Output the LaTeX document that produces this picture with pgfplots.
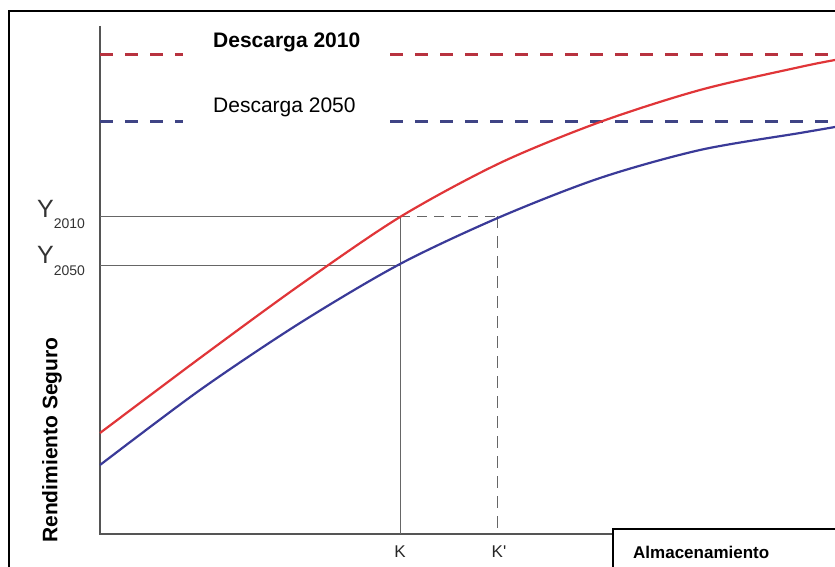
\documentclass[border=0pt]{standalone}
\usepackage{pgfplots}
\pgfplotsset{compat=1.18}
\usepackage{fontspec}
\setmainfont{Liberation Sans}

\definecolor{curvered}{HTML}{E03538}
\definecolor{curveblue}{HTML}{3A3A98}
\definecolor{dashred}{HTML}{B8323F}
\definecolor{dashblue}{HTML}{3F4485}
\definecolor{axisgrey}{HTML}{555555}
\definecolor{guidegrey}{HTML}{666666}

\begin{document}
\begin{tikzpicture}
\begin{axis}[
  width=835pt, height=567pt, scale only axis,
  xmin=0, xmax=835, ymin=0, ymax=567,
  y dir=reverse,
  axis lines=none, ticks=none,
  clip=false,
]
% outer frame (top and left edges, the rest is cut off)
\addplot[black, line width=2pt] coordinates {(9,567) (9,11) (835,11)};

% axes
\addplot[axisgrey, line width=1.5pt] coordinates {(100,26) (100,534) (613,534)};

% box of the x label
\addplot[black, line width=2pt] coordinates {(613,567) (613,529) (835,529)};

% discharge levels (broken where the labels sit)
\addplot[dashred, line width=3pt, dash pattern=on 13pt off 12pt] coordinates {(100,55) (183,55)};
\addplot[dashred, line width=3pt, dash pattern=on 13pt off 12pt] coordinates {(390,55) (835,55)};
\addplot[dashblue, line width=3pt, dash pattern=on 13pt off 12pt] coordinates {(100,122) (183,122)};
\addplot[dashblue, line width=3pt, dash pattern=on 13pt off 12pt] coordinates {(390,122) (835,122)};

% guide lines
\addplot[guidegrey, line width=1pt] coordinates {(100,216) (400,216)};
\addplot[guidegrey, line width=1pt, dash pattern=on 10pt off 7pt] coordinates {(400,216) (497,216)};
\addplot[guidegrey, line width=1pt] coordinates {(100,265) (400,265)};
\addplot[guidegrey, line width=1pt] coordinates {(400,216) (400,534)};
\addplot[guidegrey, line width=1pt, dash pattern=on 12pt off 8pt] coordinates {(497,216) (497,534)};

% yield curves
\addplot[curvered, line width=2.2pt, smooth] coordinates {
  (100,433) (200,358) (300,285) (400,217) (500,163) (600,122) (700,90) (800,67) (835,60)};
\addplot[curveblue, line width=2.2pt, smooth] coordinates {
  (100,465) (200,390) (300,323) (400,264) (500,217) (600,178) (700,150) (800,133) (835,127)};

% texts
\node[anchor=base west, inner sep=0pt, font=\fontsize{21}{21}\selectfont\bfseries] at (axis cs:213,48) {Descarga 2010};
\node[anchor=base west, inner sep=0pt, font=\fontsize{21}{21}\selectfont] at (axis cs:213,113) {Descarga 2050};
\node[anchor=base west, inner sep=0pt, text=black!80] at (axis cs:37,217)
  {{\fontsize{25}{25}\selectfont Y}\raisebox{-11pt}{\fontsize{14}{14}\selectfont 2010}};
\node[anchor=base west, inner sep=0pt, text=black!80] at (axis cs:37,263)
  {{\fontsize{25}{25}\selectfont Y}\raisebox{-12pt}{\fontsize{14}{14}\selectfont 2050}};
\node[rotate=90, inner sep=0pt, font=\fontsize{21}{21}\selectfont\bfseries] at (axis cs:52,440) {Rendimiento Seguro};
\node[anchor=base, inner sep=0pt, font=\fontsize{17}{17}\selectfont, text=black!85] at (axis cs:400,557) {K};
\node[anchor=base, inner sep=0pt, font=\fontsize{17}{17}\selectfont, text=black!85] at (axis cs:499,557) {K\textquotesingle};
\node[anchor=base west, inner sep=0pt, font=\fontsize{17}{17}\selectfont\bfseries] at (axis cs:633,558) {Almacenamiento};
\end{axis}
\pgfresetboundingbox
\path (current axis.south west) rectangle (current axis.north east);
\end{tikzpicture}
\end{document}
